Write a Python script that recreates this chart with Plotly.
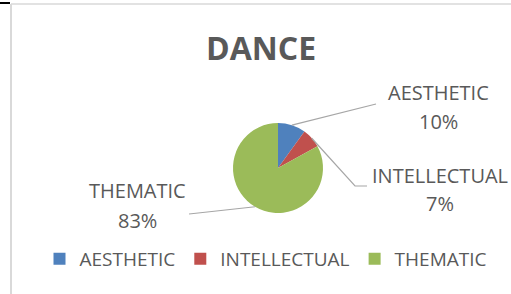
import math
import plotly.graph_objects as go

# ---- data ----
categories = ["AESTHETIC", "INTELLECTUAL", "THEMATIC"]
values = [10, 7, 83]
colors = ["#4F81BD", "#C0504D", "#9BBB59"]
title_text = "DANCE"

# ---- layout constants (pixels) ----
W, H = 511, 294
CX, CY, R = 278, 168, 45
FONT = "Open Sans"
TXT = "#595959"

# label placement: (center x, name center y, pct center y), leader path points after the pie edge
label_pos = {
    "AESTHETIC": (438, 92.5, 121, [(376, 104)]),
    "INTELLECTUAL": (440, 175.5, 203, [(355, 186), (367, 186)]),
    "THEMATIC": (137, 190.5, 220, [(189, 214)]),
}


def px(x):
    return x / W


def py(y):
    return 1 - y / H


fig = go.Figure()
fig.add_trace(go.Pie(
    labels=categories,
    values=values,
    marker=dict(colors=colors, line=dict(width=0)),
    sort=False,
    direction="clockwise",
    rotation=0,
    textinfo="none",
    hoverinfo="label+percent",
    domain=dict(x=[px(CX - R), px(CX + R)], y=[py(CY + R), py(CY - R)]),
))

total = sum(values)
shapes = []
annotations = []
cum = 0
for cat, v in zip(categories, values):
    mid = (cum + v / 2) / total * 2 * math.pi
    cum += v
    ex = CX + R * math.sin(mid)
    ey = CY - R * math.cos(mid)
    lx, ny, pyy, pts = label_pos[cat]
    path = f"M {px(ex)} {py(ey)}"
    for (qx, qy) in pts:
        path += f" L {px(qx)} {py(qy)}"
    shapes.append(dict(type="path", xref="paper", yref="paper", path=path,
                       line=dict(color="#A6A6A6", width=1.2)))
    pct = f"{round(v / total * 100)}%"
    annotations.append(dict(text=cat, x=px(lx), y=py(ny), xref="paper", yref="paper",
                            xanchor="center", yanchor="middle", showarrow=False,
                            font=dict(family=FONT, size=20, color=TXT)))
    annotations.append(dict(text=pct, x=px(lx), y=py(pyy), xref="paper", yref="paper",
                            xanchor="center", yanchor="middle", showarrow=False,
                            font=dict(family=FONT, size=20, color=TXT)))

# title
annotations.append(dict(text=f"<b>{title_text}</b>", x=px(261), y=py(47), xref="paper", yref="paper",
                        xanchor="center", yanchor="middle", showarrow=False,
                        font=dict(family=FONT, size=32, color=TXT)))

# chart frame
shapes.append(dict(type="line", xref="paper", yref="paper", x0=px(11), x1=1, y0=py(4), y1=py(4),
                   line=dict(color="#D9D9D9", width=1.5)))
shapes.append(dict(type="line", xref="paper", yref="paper", x0=px(11), x1=px(11), y0=py(4), y1=0,
                   line=dict(color="#D9D9D9", width=2)))
shapes.append(dict(type="line", xref="paper", yref="paper", x0=0, x1=px(10), y0=py(3), y1=py(3),
                   line=dict(color="#000000", width=2)))

fig.update_layout(
    width=W, height=H,
    margin=dict(l=0, r=0, t=0, b=0),
    paper_bgcolor="white",
    plot_bgcolor="white",
    showlegend=True,
    legend=dict(orientation="h", x=px(266), y=py(259), xanchor="center", yanchor="middle",
                font=dict(family=FONT, size=19, color=TXT), itemclick=False),
    shapes=shapes,
    annotations=annotations,
)

fig.write_html(
    "out.html",
    config={"displayModeBar": False},
    post_script="document.body.style.margin='0';document.body.style.overflow='hidden';",
)
